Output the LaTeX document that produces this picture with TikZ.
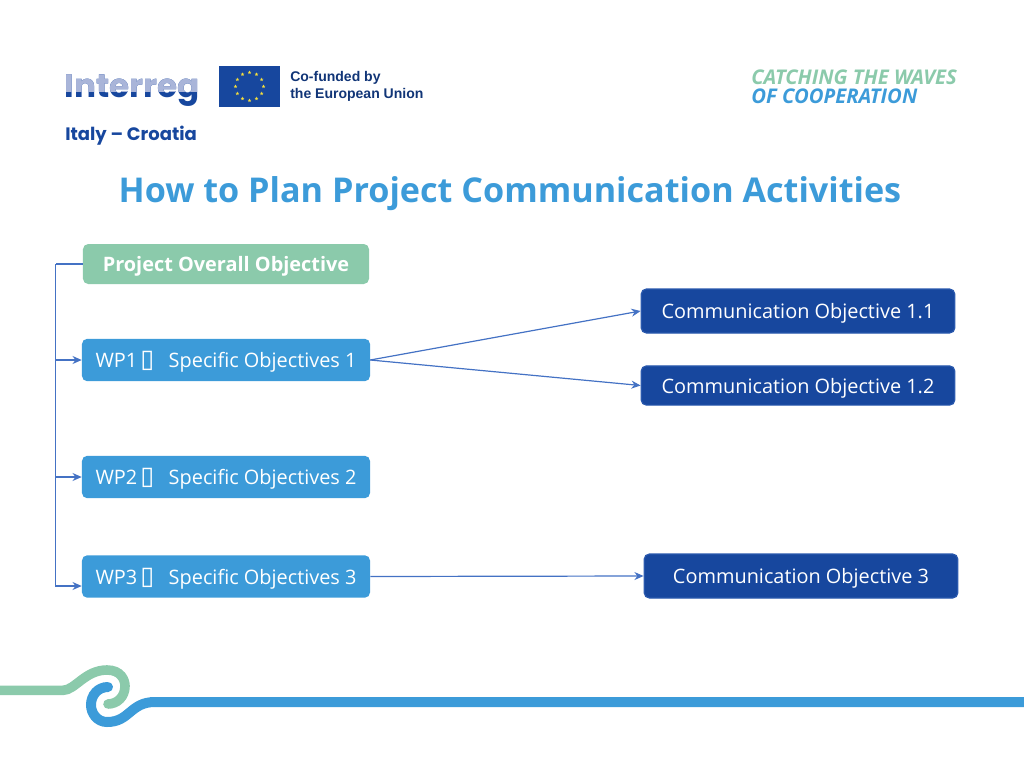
\documentclass[tikz,border=0pt]{standalone}
\usepackage{fontspec}
\setmainfont{Open Sans}
\newfontfamily\logofont{Poppins}
\newfontfamily\eufont{Liberation Sans}
\newfontfamily\boxfont{DejaVu Sans}
\usetikzlibrary{shapes.geometric, calc, arrows.meta}
\definecolor{skyblue}{HTML}{3C9BD9}
\definecolor{seagreen}{HTML}{8BCAAB}
\definecolor{navyblue}{HTML}{17479E}
\definecolor{paleblue}{HTML}{A9B5D9}
\definecolor{linkblue}{HTML}{4472C4}
\definecolor{starcol}{HTML}{F5DE3C}
\tikzset{
>={Stealth[length=2.3mm, width=2mm]}, % small filled heads
x=0.25mm, y=-0.25mm, % one unit is one pixel of the slide
boxbase/.style={rounded corners=1.3mm, inner sep=0pt, text=white, text height=4.8mm, text depth=1mm, font=\fontsize{14.15}{17}\selectfont},
goal/.style={boxbase, fill=seagreen, minimum width=71.5mm, minimum height=10mm, font=\fontsize{14.15}{17}\selectfont\bfseries},
wp/.style={boxbase, fill=skyblue, minimum width=72mm, minimum height=10.6mm},
comm/.style={boxbase, fill=navyblue, draw=linkblue!40!navyblue, line width=0.3mm, minimum width=78.4mm},
link/.style={->, draw=linkblue, line width=0.3mm},
eustar/.style={star, star points=5, star point ratio=2.4, fill=starcol, inner sep=0pt, minimum size=1mm},
}
\newcommand{\tofu}{{\boxfont\fontsize{18}{18}\selectfont\char"25AF}}

\begin{document}
\begin{tikzpicture}
    \useasboundingbox (0,0) rectangle (1024,768);
    % boxes on the left
    \node[goal] (ovr) at (226,264) {Project Overall Objective};
    \node[wp] (wp1) at (226,360) {WP1 \hspace{-0.5mm}\tofu\hspace{2.3mm} Specific Objectives 1};
    \node[wp] (wp2) at (226,477) {WP2 \hspace{-0.5mm}\tofu\hspace{2.3mm} Specific Objectives 2};
    \node[wp] (wp3) at (226,576.5) {WP3 \hspace{-0.5mm}\tofu\hspace{2.3mm} Specific Objectives 3};
    % boxes on the right
    \node[comm, minimum height=11mm] (co11) at (798,311) {Communication Objective 1.1};
    \node[comm, minimum height=9.8mm] (co12) at (798,385.5) {Communication Objective 1.2};
    \node[comm, minimum height=11mm] (co3) at (801,576) {Communication Objective 3};
    % connectors
    \coordinate (trunk) at (55.5,264);
    \draw[draw=linkblue, line width=0.3mm] (ovr.west) -- (trunk);
    \draw[link] (trunk) |- (wp3.west |- 0,586);
    \draw[link] (trunk |- wp1.west) -- (wp1.west);
    \draw[link] (trunk |- wp2.west) -- (wp2.west);
    \draw[link] (wp1.east) -- (co11.west);
    \draw[link] (wp1.east) -- (co12.west);
    \draw[link] (wp3.east) -- (co3.west);
    % title
    \node[text=skyblue, font=\fontsize{24.3}{28}\selectfont\bfseries] (title) at (510,194) {How to Plan Project Communication Activities};
    % logo, two tones
    \node[text=navyblue, font=\logofont\fontsize{23.2}{30}\selectfont\bfseries, inner sep=0pt] (interreg) at (132.5,91) {Interreg};
    \begin{scope}
      \clip (50,60) rectangle (210,91);
      \node[text=paleblue, font=\logofont\fontsize{23.2}{30}\selectfont\bfseries, inner sep=0pt] at (132.5,91) {Interreg};
    \end{scope}
    \node[text=navyblue, font=\logofont\fontsize{12.8}{16}\selectfont\bfseries, inner sep=0pt, anchor=west] (italy) at (65,136) {Italy – Croatia};
    \fill[navyblue] (219,65.5) rectangle (280,107);
    \foreach \a in {0,30,...,330}
      \node[eustar] (s\a) at ($(249.5,86.5)+(\a:14)$) {};
    \node[text=navyblue!75!black, font=\eufont\fontsize{9.97}{11.8}\selectfont\bfseries, align=left, inner sep=0pt, anchor=west] (eutext) at (290,86.5) {Co-funded by\\the European Union};
    \node[font=\fontsize{14.4}{13.4}\selectfont\bfseries\itshape, align=left, inner sep=0pt, anchor=west] (waves) at (751,87) {\textcolor{seagreen}{CATCHING THE WAVES}\\\textcolor{skyblue}{OF COOPERATION}};
    % wave at the bottom
    \draw[seagreen, line width=2.4mm, line cap=round] (-5,690.3) -- (63,690.3) .. controls (75,690.3) and (85,670) .. (107,670) .. controls (121,670) and (125,680) .. (125,686) .. controls (125,697) and (117,704) .. (108,704);
    \draw[skyblue, line width=2.5mm, line cap=round] (1030,702) -- (155,702) .. controls (130,702) and (130,722) .. (107,722) .. controls (97,722) and (91,713) .. (91,705) .. controls (91,695) and (98,687) .. (108,687);
\end{tikzpicture}
\end{document}
